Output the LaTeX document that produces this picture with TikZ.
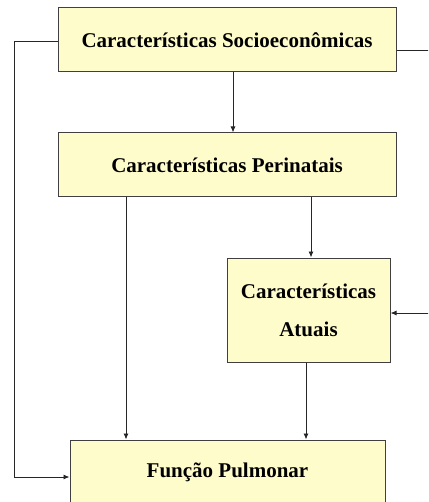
\documentclass[tikz,border=0pt]{standalone}
\usepackage{fontspec}
\setmainfont{Liberation Serif}
\usetikzlibrary{positioning,arrows.meta}

\begin{document}
\begin{tikzpicture}[x=1pt,y=-1pt,
  factor/.style={rectangle,draw=black!75,fill=yellow!20,line width=1pt,
                 inner sep=0pt,align=center,
                 font=\bfseries\fontsize{21}{25}\selectfont},
  link/.style={draw=black!85,line width=0.9pt},
  arrow/.style={link,-{Latex[length=6pt,width=5pt]}},
]

% Frame of the picture
\clip (0,0) rectangle (428,502);

% Factors
\node[factor,minimum width=338pt,minimum height=64pt] (socio) at (227,40)
  {Características Socioeconômicas};
\node[factor,minimum width=338pt,minimum height=64pt] (perinat) at (227,165)
  {Características Perinatais};
\node[factor,minimum width=163pt,minimum height=104pt] (atuais) at (308.5,310)
  {Características\\[13pt]Atuais};
\node[factor,minimum width=315pt,minimum height=64pt] (funcao) at (227.5,472)
  {Função Pulmonar};

% Lines leaving the picture on the right
\coordinate (outsocio) at (440,50);
\coordinate (inatuais) at (440,313);

% Arrows between factors
\draw[arrow] (socio.south -| 233,0) -- (perinat.north -| 233,0);
\draw[arrow] (perinat.south -| 311,0) -- (atuais.north -| 311,0);
\draw[arrow] (perinat.south -| 126,0) -- (funcao.north -| 126,0);
\draw[arrow] (atuais.south -| 306,0) -- (funcao.north -| 306,0);

% Direct path along the left side
\draw[arrow] (socio.west |- 0,41) -- (14,41) |- (funcao.west |- 0,477);

% Right side
\draw[link] (socio.east |- 0,50) -- (outsocio);
\draw[arrow] (inatuais) -- (atuais.east |- inatuais);

\end{tikzpicture}
\end{document}
